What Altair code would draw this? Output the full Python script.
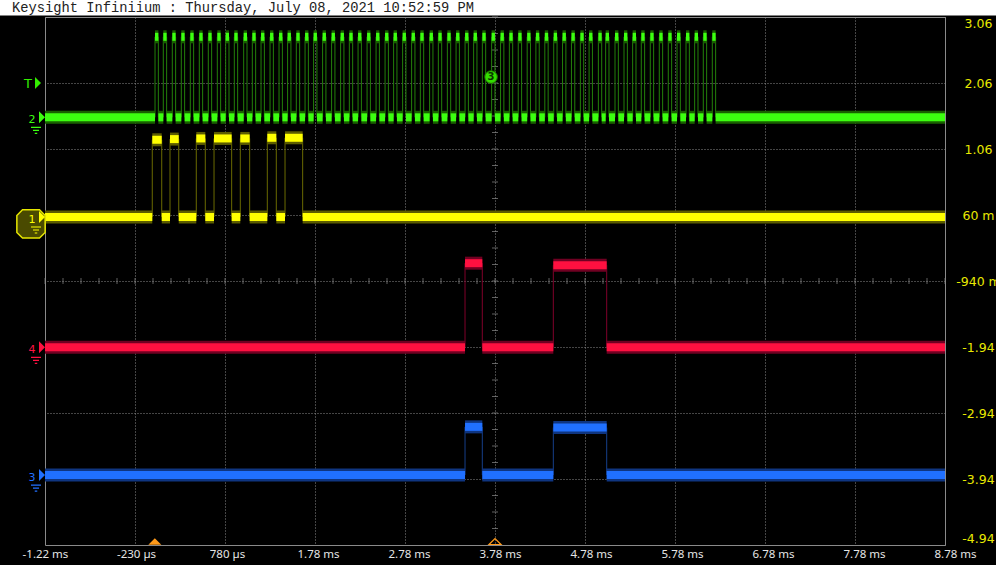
import altair as alt
import pandas as pd

TITLE = "Keysight Infiniium : Thursday, July 08, 2021 10:52:59 PM"

T_MIN, T_MAX = -1.22, 8.78
V_MIN, V_MAX = -4.94, 3.06

x_tick_values = [-1.22, -0.22, 0.78, 1.78, 2.78, 3.78, 4.78, 5.78, 6.78, 7.78, 8.78]
x_tick_labels = ["-1.22 ms", "-230 µs", "780 µs", "1.78 ms", "2.78 ms", "3.78 ms",
                 "4.78 ms", "5.78 ms", "6.78 ms", "7.78 ms", "8.78 ms"]
y_tick_values = [3.06, 2.06, 1.06, 0.06, -0.94, -1.94, -2.94, -3.94, -4.94]
y_tick_labels = ["3.06", "2.06", "1.06", "60 m", "-940 m", "-1.94", "-2.94", "-3.94", "-4.94"]

channels = ["1", "2", "3", "4"]
core_colors = ["#ffff00", "#3cff10", "#2070ff", "#ff1040"]
halo_colors = ["#5c5c00", "#196000", "#0f3580", "#700022"]
edge_colors = ["#6a6a00", "#23800a", "#163f8a", "#80002a"]

# channel 1 (yellow): data line
ch1_low = 0.03
ch1_rise = [-0.028, 0.169, 0.461, 0.658, 0.950, 1.250, 1.447]
ch1_fall = [0.077, 0.266, 0.561, 0.854, 1.054, 1.350, 1.643]
ch1_high = [1.20, 1.21, 1.22, 1.22, 1.22, 1.23, 1.23]

# channel 2 (green): clock
ch2_low = 1.54
ch2_high_level = 2.76
ch2_pulse_width = 0.037
ch2_pulse_centers = [
    0.021, 0.113, 0.213, 0.313, 0.413, 0.513, 0.613, 0.713, 0.806, 0.902,
    1.006, 1.102, 1.199, 1.299, 1.399, 1.494, 1.591, 1.688, 1.783, 1.883,
    1.983, 2.083, 2.180, 2.277, 2.377, 2.477, 2.577, 2.672, 2.772, 2.872,
    2.969, 3.072, 3.169, 3.269, 3.366, 3.466, 3.561, 3.658, 3.761, 3.860,
    3.958, 4.057, 4.156, 4.253, 4.352, 4.451, 4.549, 4.648, 4.747, 4.844,
    4.947, 5.028, 5.132, 5.232, 5.328, 5.424, 5.524, 5.624, 5.724, 5.821,
    5.921, 6.017, 6.113, 6.213,
]

# channel 3 (blue)
ch3_low = -3.88
ch3_rise = [3.447, 4.428]
ch3_fall = [3.639, 5.021]
ch3_high = [-3.15, -3.16]

# channel 4 (red)
ch4_low = -1.945
ch4_rise = [3.447, 4.428]
ch4_fall = [3.639, 5.021]
ch4_high = [-0.67, -0.70]

trigger_level = 2.06
trigger_time = 0.0
center_time = 3.78
marker3_time, marker3_level = 3.736, 2.15

x_minor = [round(T_MIN + 0.2 * i, 2) for i in range(51)]
y_minor = [round(V_MIN + 0.25 * i, 2) for i in range(33)]


def build(name, low, rises, falls, highs):
    hs, es = [], []
    t = T_MIN
    for r, f, h in zip(rises, falls, highs):
        hs.append(dict(ch=name, t0=t, t1=r, v=low))
        hs.append(dict(ch=name, t0=r, t1=f, v=h))
        es.append(dict(ch=name, t=r, v0=low, v1=h))
        es.append(dict(ch=name, t=f, v0=low, v1=h))
        t = f
    hs.append(dict(ch=name, t0=t, t1=T_MAX, v=low))
    return hs, es


segs, edges = [], []
for args in [
    ("2", ch2_low, [c - ch2_pulse_width / 2 for c in ch2_pulse_centers],
     [c + ch2_pulse_width / 2 for c in ch2_pulse_centers],
     [ch2_high_level] * len(ch2_pulse_centers)),
    ("1", ch1_low, ch1_rise, ch1_fall, ch1_high),
    ("4", ch4_low, ch4_rise, ch4_fall, ch4_high),
    ("3", ch3_low, ch3_rise, ch3_fall, ch3_high),
]:
    h, e = build(*args)
    segs += h
    edges += e

seg_df = pd.DataFrame(segs)
edge_df = pd.DataFrame(edges)
marker_df = pd.DataFrame({"ch": ["2", "1", "4", "3"],
                          "v": [ch2_low, ch1_low, ch4_low, ch3_low],
                          "t": [T_MIN] * 4})

xs = alt.Scale(domain=[T_MIN, T_MAX], nice=False, zero=False)
ys = alt.Scale(domain=[V_MIN, V_MAX], nice=False, zero=False)

x_expr = "[" + ",".join("'%s'" % l for l in x_tick_labels) + "][indexof([" + \
    ",".join(str(round(v * 100)) for v in x_tick_values) + "], round(datum.value*100))]"
y_expr = "[" + ",".join("'%s'" % l for l in y_tick_labels) + "][indexof([" + \
    ",".join(str(round(v * 100)) for v in y_tick_values) + "], round(datum.value*100))]"

GRID = "#8a8a8a"
x_axis = alt.Axis(values=x_tick_values, labelExpr=x_expr, grid=True, gridColor=GRID,
                  gridDash=[1, 2], gridOpacity=1, domain=False, ticks=False,
                  labelColor="#e6e6e6", labelFont="Noto Sans", labelFontSize=11.5,
                  labelPadding=3, labelFlush=False, labelOverlap=False, title=None,
                  orient="bottom", labelOffset=alt.ExprRef(expr="(datum.value + 1.22) * 1.0"))
y_axis = alt.Axis(values=y_tick_values, labelExpr=y_expr, grid=True, gridColor=GRID,
                  gridDash=[1, 2], gridOpacity=1, domain=False, ticks=False,
                  labelColor="#e8e800", labelFont="DejaVu Sans", labelFontSize=12.5,
                  labelPadding=33, labelAlign="center", labelFlush=True,
                  labelOverlap=False, title=None, orient="right")


def X(f):
    return alt.X(f, type="quantitative", scale=xs, axis=x_axis)


def Y(f):
    return alt.Y(f, type="quantitative", scale=ys, axis=y_axis)


def chcolor(rng):
    return alt.Color("ch:N", scale=alt.Scale(domain=channels, range=rng), legend=None)


one = alt.Data(values=[{}])

banner = alt.Chart(one).mark_rect(color="white").encode(
    x=alt.value(-45), x2=alt.value(951), y=alt.value(-17), y2=alt.value(-1.5))
title = alt.Chart(one).mark_text(align="left", baseline="alphabetic", font="Liberation Mono",
                                 fontSize=13.75, color="#222222").encode(
    x=alt.value(-33), y=alt.value(-5), text=alt.value(TITLE))

xminor = alt.Chart(pd.DataFrame({"t": x_minor, "v": [-0.94] * len(x_minor)})).mark_tick(
    orient="vertical", size=6, thickness=1, color=GRID).encode(x=X("t"), y=Y("v"))
yminor = alt.Chart(pd.DataFrame({"v": y_minor, "t": [center_time] * len(y_minor)})).mark_tick(
    orient="horizontal", size=6, thickness=1, color=GRID).encode(x=X("t"), y=Y("v"))

edge_layer = alt.Chart(edge_df).mark_rule(strokeWidth=1).encode(
    x=X("t"), y=Y("v0"), y2="v1", color=chcolor(edge_colors))
halo_layer = alt.Chart(seg_df).mark_rule(strokeWidth=13, strokeCap="butt").encode(
    x=X("t0"), x2="t1", y=Y("v"), color=chcolor(halo_colors))
core_layer = alt.Chart(seg_df).mark_rule(strokeWidth=8, strokeCap="butt").encode(
    x=X("t0"), x2="t1", y=Y("v"), color=chcolor(core_colors))

OCT = "M-0.6,-1L0.6,-1L1,-0.6L1,0.6L0.6,1L-0.6,1L-1,0.6L-1,-0.6Z"
ARROW = "M-0.5,-1L0.5,0L-0.5,1Z"
GROUND = "M-1,-0.6L1,-0.6M-0.6,0L0.6,0M-0.25,0.6L0.25,0.6"
sel_box = alt.Chart(pd.DataFrame({"t": [T_MIN], "v": [ch1_low]})).mark_point(
    shape=OCT, size=800, filled=True, fill="#4a4a00", stroke="#e6e600", strokeWidth=1.5,
    opacity=1, xOffset=-14, yOffset=7).encode(x=X("t"), y=Y("v"))
arrows = alt.Chart(marker_df).mark_point(shape=ARROW, size=144, filled=True, opacity=1,
                                         xOffset=-3).encode(
    x=X("t"), y=Y("v"), color=chcolor(core_colors))
digits = alt.Chart(marker_df).mark_text(font="DejaVu Sans", fontSize=11, xOffset=-13,
                                        yOffset=3).encode(
    x=X("t"), y=Y("v"), text="ch:N", color=chcolor(core_colors))
grounds = alt.Chart(marker_df).mark_point(shape=GROUND, size=100, filled=False, opacity=1,
                                          strokeWidth=1.2, xOffset=-9, yOffset=13).encode(
    x=X("t"), y=Y("v"), color=chcolor(core_colors))

trig_df = pd.DataFrame({"t": [T_MIN], "v": [trigger_level]})
trig_arrow = alt.Chart(trig_df).mark_point(shape=ARROW, size=144, filled=True, opacity=1,
                                           color="#33ee00", xOffset=-7).encode(x=X("t"), y=Y("v"))
trig_t = alt.Chart(trig_df).mark_text(text="T", font="DejaVu Sans", fontSize=13,
                                      color="#33ee00", xOffset=-17, yOffset=1).encode(
    x=X("t"), y=Y("v"))

m3_df = pd.DataFrame({"t": [marker3_time], "v": [marker3_level]})
m3_circle = alt.Chart(m3_df).mark_point(shape="circle", size=160, filled=True, opacity=1,
                                        fill="#33dd00", stroke="#1b6a00",
                                        strokeWidth=1).encode(x=X("t"), y=Y("v"))
m3_text = alt.Chart(m3_df).mark_text(text="3", font="DejaVu Sans", fontSize=10,
                                     fontWeight="bold", color="#0b3300").encode(
    x=X("t"), y=Y("v"))

TRI_UP = "M-1,0.5L0,-0.5L1,0.5Z"
trig_time = alt.Chart(pd.DataFrame({"t": [trigger_time], "v": [V_MIN]})).mark_point(
    shape=TRI_UP, size=169, filled=True, opacity=1, color="#ff9a1a", yOffset=-3.5).encode(
    x=X("t"), y=Y("v"))
center_mark = alt.Chart(pd.DataFrame({"t": [center_time], "v": [V_MIN]})).mark_point(
    shape=TRI_UP, size=144, filled=False, opacity=1, color="#ff9a1a", strokeWidth=1.2,
    yOffset=-3.5).encode(x=X("t"), y=Y("v"))

chart = alt.layer(
    xminor, yminor, edge_layer, halo_layer, core_layer,
    sel_box, arrows, digits, grounds, trig_arrow, trig_t, m3_circle, m3_text,
    trig_time, center_mark, banner, title,
).resolve_scale(color="independent").properties(
    width=900, height=528,
    padding={"left": 45, "top": 17, "right": 51, "bottom": 20},
    autosize=alt.AutoSizeParams(type="none"),
    background="black",
).configure_view(stroke="#8a8a8a", strokeWidth=1)

chart.save("out.html", embed_options={"renderer": "svg", "actions": False})
